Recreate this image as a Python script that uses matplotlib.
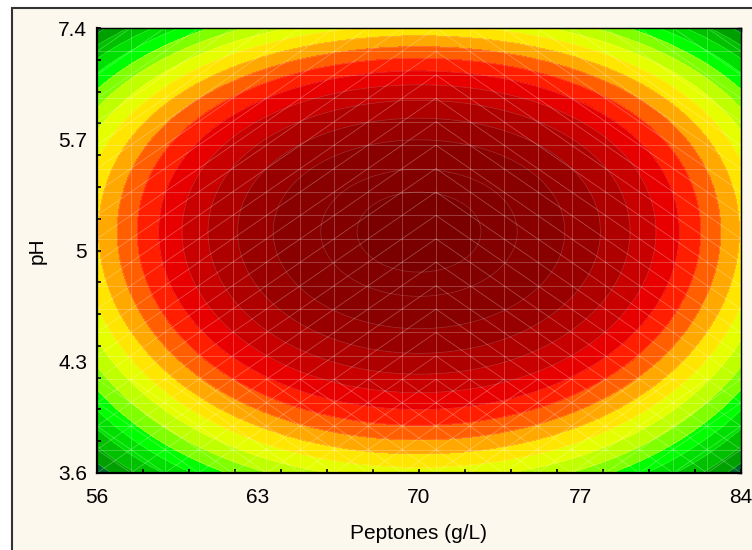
import numpy as np
import matplotlib.pyplot as plt
from matplotlib.patches import Rectangle
from matplotlib.collections import LineCollection

plt.rcParams['font.family'] = ['Liberation Sans', 'DejaVu Sans']

# axis labels (coded levels -2 .. 2 of the design)
coded = [-2, -1, 0, 1, 2]
peptones_labels = ['56', '63', '70', '77', '84']
ph_labels = ['3.6', '4.3', '5', '5.7', '7.4']

# fitted response surface, coded units (centred form)
center_u = 0.0
center_v = 0.17
c_0 = 20.83     # value at optimum
c_uu = -2.23    # peptones^2
c_vv = -2.55    # pH^2
c_vvv = -0.17   # pH^3
c_uuvv = 0.0915 # peptones^2 * pH^2

# contour levels and band colours (low -> high)
levels = [-100, 4, 5, 6, 7, 8, 9, 10, 11, 12, 13, 14, 15, 16, 17, 18, 19, 20, 20.5, 100]
band_colors = ['#00682F', '#00A000', '#00C000', '#00E000', '#00FF00', '#80FF00',
               '#C0FF00', '#E6FF00', '#FFE600', '#FFA800', '#FF5F00', '#FF1F00',
               '#E80000', '#C80000', '#AF0000', '#980000', '#890000', '#820000',
               '#7A0000']


def response(u, v):
    du = u - center_u
    dv = v - center_v
    return (c_0 + c_uu * du ** 2 + c_vv * dv ** 2 + c_vvv * dv ** 3
            + c_uuvv * du ** 2 * dv ** 2)


fig = plt.figure(figsize=(7.52, 5.5), dpi=100)
fig.patch.set_facecolor('white')
frame = Rectangle((12 / 752, -0.05), 1.0, 1.05 - 8 / 550, transform=fig.transFigure,
                  facecolor='#FDF8EE', edgecolor='#333333', lw=1.5, zorder=0)
fig.add_artist(frame)

ax = fig.add_axes([97 / 752, 1 - 473 / 550, 644 / 752, 445 / 550])

g = np.linspace(-2, 2, 401)
U, V = np.meshgrid(g, g)
Z = response(U, V)
ax.contourf(U, V, Z, levels=levels, colors=band_colors)
ax.contour(U, V, Z, levels=levels[1:-1], colors='white', linewidths=0.5, alpha=0.2)

# faint surface mesh
mesh = np.linspace(-2, 2, 20)
for m in mesh:
    ax.axvline(m, color='white', lw=0.6, alpha=0.28)
    ax.axhline(m, color='white', lw=0.6, alpha=0.28)
segs = []
for i in range(len(mesh) - 1):
    for j in range(len(mesh) - 1):
        x0, x1 = mesh[i], mesh[i + 1]
        y0, y1 = mesh[j], mesh[j + 1]
        if x0 < 0 or y1 <= -1:
            segs.append([(x0, y0), (x1, y1)])
        if x0 >= 0 or y1 <= -1:
            segs.append([(x0, y1), (x1, y0)])
ax.add_collection(LineCollection(segs, colors='white', linewidths=0.6, alpha=0.28))

ax.set_xlim(-2, 2)
ax.set_ylim(-2, 2)

ax.set_xticks(coded, peptones_labels)
ax.set_yticks(coded, ph_labels)
ax.set_xticks(np.linspace(-2, 2, 15), minor=True)
ax.set_yticks(np.linspace(-2, 2, 15), minor=True)
ax.xaxis.remove_overlapping_locs = False
ax.yaxis.remove_overlapping_locs = False
ax.tick_params(which='major', length=0, labelsize=15)
ax.tick_params(axis='x', which='major', pad=11)
ax.tick_params(axis='y', which='major', pad=7)
ax.tick_params(which='minor', direction='in', length=3, width=1.2, color='black')

secx = ax.secondary_xaxis('top')
secx.set_xticks(np.linspace(-2, 2, 9))
secx.set_xticklabels([])
secx.tick_params(direction='in', length=3, width=1.0)
secy = ax.secondary_yaxis('right')
secy.set_yticks(np.linspace(-2, 2, 9))
secy.set_yticklabels([])
secy.tick_params(direction='in', length=3, width=1.0)

for side in ['left', 'bottom']:
    ax.spines[side].set_linewidth(1.6)
for side in ['top', 'right']:
    ax.spines[side].set_linewidth(1.0)

ax.set_xlabel('Peptones (g/L)', fontsize=15)
ax.set_ylabel('pH', fontsize=15)
ax.xaxis.set_label_coords(0.5, -0.1146)
ax.yaxis.set_label_coords(-0.0776, 0.5)

fig.savefig('out.png', dpi=100, facecolor=fig.get_facecolor())
